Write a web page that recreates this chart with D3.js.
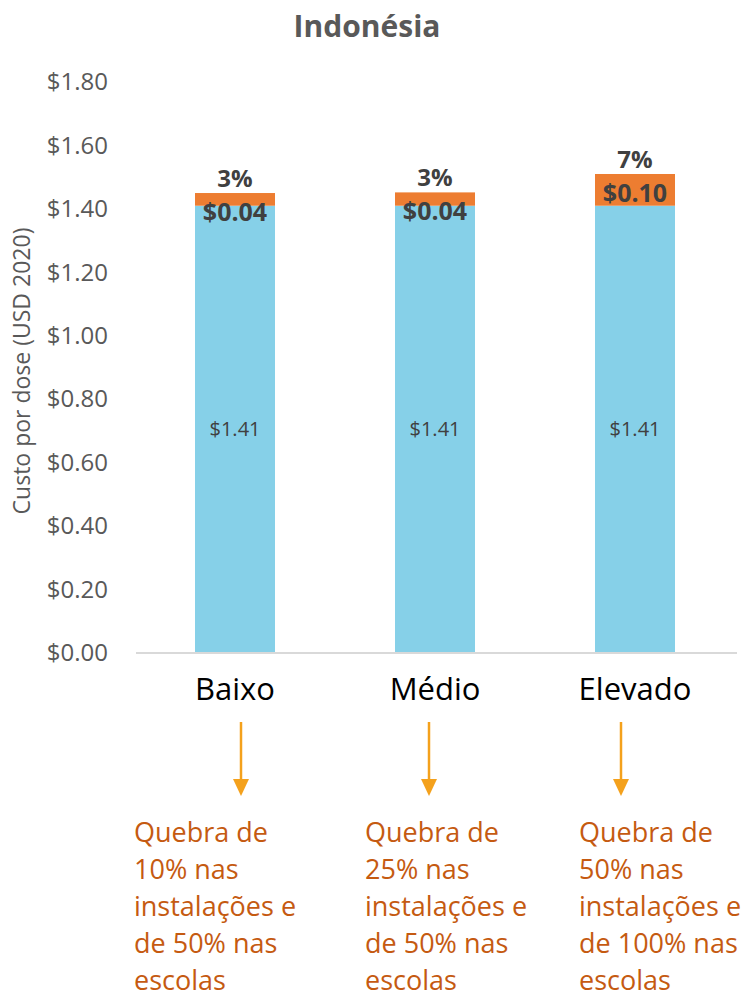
<!DOCTYPE html>
<html>
<head>
<meta charset="utf-8">
<script src="https://cdn.jsdelivr.net/npm/d3@7"></script>
<style>
  body { margin: 0; background: #fff; }
  svg { display: block; font-family: "Open Sans", sans-serif; }
</style>
</head>
<body>
<div class="chart"></div>
<script>
var categories = ["Baixo", "Médio", "Elevado"];
var baseCost = [1.41, 1.41, 1.41];
var breakageCost = [0.04, 0.042, 0.10];
var pctLabels = ["3%", "3%", "7%"];
var yTicks = [0, 0.2, 0.4, 0.6, 0.8, 1.0, 1.2, 1.4, 1.6, 1.8];
var notes = [
  ["Quebra de", "10% nas", "instalações e", "de 50% nas", "escolas"],
  ["Quebra de", "25% nas", "instalações e", "de 50% nas", "escolas"],
  ["Quebra de", "50% nas", "instalações e", "de 100% nas", "escolas"]
];

var
  width = 747,
  height = 997,
  svg = d3.select('.chart').append('svg').attr('width', width).attr('height', height),
  money = d3.format("$.2f");

var x = d3.scaleBand().domain(categories).range([135, 735]).paddingInner(0.6).paddingOuter(0.3);
var y = d3.scaleLinear().domain([0, 1.8]).range([653, 82]);

// title
svg.append("text")
  .attr("x", 367).attr("y", 37)
  .attr("text-anchor", "middle")
  .attr("font-size", 30).attr("font-weight", "bold")
  .attr("fill", "#595959")
  .text("Indonésia");

// y axis labels (no line)
var yAxis = svg.append("g")
  .attr("transform", "translate(108,0)")
  .call(d3.axisLeft(y).tickValues(yTicks).tickFormat(money).tickSize(0).tickPadding(0));
yAxis.select(".domain").remove();
yAxis.selectAll("text").attr("font-size", 24).attr("fill", "#595959").attr("font-family", "Open Sans");

svg.append("text")
  .attr("transform", "translate(30,371) rotate(-90)")
  .attr("text-anchor", "middle")
  .attr("font-size", 23).attr("fill", "#595959")
  .text("Custo por dose (USD 2020)");

var rows = categories.map(function(c, i) {
  return { cat: c, base: baseCost[i], extra: breakageCost[i], pct: pctLabels[i] };
});

// bars
svg.selectAll("rect.base")
  .data(rows).enter().append("rect")
  .attr("class", "base")
  .attr("x", function(d){ return x(d.cat); })
  .attr("width", x.bandwidth())
  .attr("y", function(d){ return y(d.base); })
  .attr("height", function(d){ return y(0) - y(d.base); })
  .attr("fill", "#86D0E8");

svg.selectAll("rect.extra")
  .data(rows).enter().append("rect")
  .attr("class", "extra")
  .attr("x", function(d){ return x(d.cat); })
  .attr("width", x.bandwidth())
  .attr("y", function(d){ return y(d.base + d.extra); })
  .attr("height", function(d){ return y(d.base) - y(d.base + d.extra); })
  .attr("fill", "#ED7D31");

// baseline
svg.append("line")
  .attr("x1", 136).attr("x2", 737)
  .attr("y1", y(0)).attr("y2", y(0))
  .attr("stroke", "#D9D9D9").attr("stroke-width", 2);

// labels
var cx = function(d){ return x(d.cat) + x.bandwidth() / 2; };

svg.selectAll("text.baseLbl")
  .data(rows).enter().append("text")
  .attr("class", "baseLbl")
  .attr("x", cx)
  .attr("y", function(d){ return y(d.base / 2) + 7; })
  .attr("text-anchor", "middle")
  .attr("font-size", 20).attr("fill", "#404040")
  .text(function(d){ return money(d.base); });

svg.selectAll("text.extraLbl")
  .data(rows).enter().append("text")
  .attr("class", "extraLbl")
  .attr("x", cx)
  .attr("y", function(d){ return y(d.base + d.extra) + 28; })
  .attr("text-anchor", "middle")
  .attr("font-size", 25).attr("font-weight", "bold").attr("fill", "#404040")
  .text(function(d){ return money(d.extra); });

svg.selectAll("text.pctLbl")
  .data(rows).enter().append("text")
  .attr("class", "pctLbl")
  .attr("x", cx)
  .attr("y", function(d){ return y(d.base + d.extra) - 6; })
  .attr("text-anchor", "middle")
  .attr("font-size", 24).attr("font-weight", "bold").attr("fill", "#404040")
  .text(function(d){ return d.pct; });

svg.selectAll("text.cat")
  .data(rows).enter().append("text")
  .attr("class", "cat")
  .attr("x", cx)
  .attr("y", 700)
  .attr("text-anchor", "middle")
  .attr("font-size", 31).attr("fill", "#000")
  .text(function(d){ return d.cat; });

// arrows + notes
var arrowX = [241, 429, 621],
    noteX = [134, 365, 579];

arrowX.forEach(function(ax) {
  svg.append("line")
    .attr("x1", ax).attr("x2", ax)
    .attr("y1", 722).attr("y2", 782)
    .attr("stroke", "#F4A11C").attr("stroke-width", 2.5);
  svg.append("path")
    .attr("d", "M" + (ax - 8) + ",779 L" + (ax + 8) + ",779 L" + ax + ",796 Z")
    .attr("fill", "#F4A11C");
});

notes.forEach(function(lines, i) {
  var t = svg.append("text")
    .attr("font-size", 27).attr("fill", "#C55A11");
  lines.forEach(function(l, j) {
    t.append("tspan")
      .attr("x", noteX[i])
      .attr("y", 842 + j * 37)
      .text(l);
  });
});
</script>
</body>
</html>
